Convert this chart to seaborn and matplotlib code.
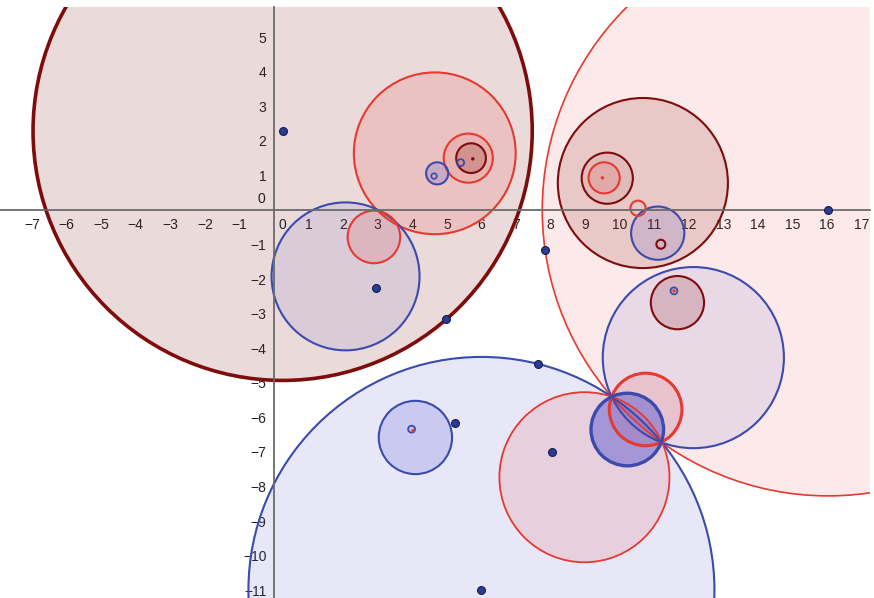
import seaborn as sns
import pandas as pd
import matplotlib.pyplot as plt
from matplotlib.patches import Circle

# circles (data units)
circle_x = [0.25, 16.03, 4.65, 2.07, 2.89, 10.67, 6.00, 12.13, 8.98, 4.09,
            5.62, 5.70, 4.72, 9.64, 9.55, 11.10, 11.67, 10.75, 10.22,
            10.53, 11.19, 5.40, 4.63, 3.98, 11.57]
circle_y = [2.29, 0.00, 1.64, -1.92, -0.78, 0.78, -10.99, -4.27, -7.73, -6.58,
            1.50, 1.50, 1.06, 0.92, 0.93, -0.67, -2.68, -5.77, -6.35,
            0.05, -0.99, 1.37, 0.98, -6.34, -2.34]
circle_r = [7.22, 8.27, 2.34, 2.14, 0.76, 2.46, 6.74, 2.62, 2.46, 1.06,
            0.71, 0.43, 0.32, 0.74, 0.45, 0.77, 0.77, 1.05, 1.05,
            0.22, 0.13, 0.10, 0.08, 0.10, 0.10]
circle_kind = ['maroon', 'red', 'red', 'blue', 'red', 'maroon', 'blue', 'blue', 'red', 'blue',
               'red', 'maroon', 'blue', 'maroon', 'red', 'blue', 'maroon', 'red', 'blue',
               'red', 'maroon', 'blue', 'blue', 'blue', 'blue']

# free points
dot_x = [0.25, 2.94, 4.97, 7.65, 5.23, 8.05, 6.00, 7.84, 16.03]
dot_y = [2.29, -2.27, -3.16, -4.46, -6.17, -7.01, -10.99, -1.16, 0.00]

# tiny centre marks
mark_x = [5.75, 9.50, 4.02, 11.57]
mark_y = [1.48, 0.93, -6.38, -2.34]
mark_kind = ['maroon', 'red', 'red', 'red']

x_ticks = list(range(-7, 18))
y_ticks = list(range(-11, 6))

colors = {'maroon': '#7e0c0c', 'red': '#e6392f', 'blue': '#3a4bad'}
fills = {'maroon': '#7e0c0c', 'red': '#e8302a', 'blue': '#4a4ad0'}
line_w = [2.6, 1.2, 1.5, 1.5, 1.5, 1.5, 1.5, 1.5, 1.3, 1.5,
          1.5, 1.5, 1.5, 1.5, 1.5, 1.5, 1.5, 2.2, 2.4,
          1.5, 1.5, 1.3, 1.2, 1.3, 1.3]
fill_a = [0.15, 0.10, 0.14, 0.10, 0.13, 0.15, 0.13, 0.10, 0.13, 0.18,
          0.10, 0.20, 0.20, 0.07, 0.12, 0.15, 0.17, 0.13, 0.42,
          0.0, 0.0, 0.0, 0.0, 0.0, 0.0]

circles = pd.DataFrame({'x': circle_x, 'y': circle_y, 'r': circle_r, 'kind': circle_kind})
dots = pd.DataFrame({'x': dot_x, 'y': dot_y})
marks = pd.DataFrame({'x': mark_x, 'y': mark_y, 'kind': mark_kind})

sns.set_theme(style="white")
plt.rcParams['font.family'] = ['Liberation Sans', 'DejaVu Sans']
fig = plt.figure(figsize=(8.74, 5.98), dpi=100)
ax = fig.add_axes([0, 0, 870 / 874, 591 / 598])

for i, row in circles.iterrows():
    k = row['kind']
    ax.add_patch(Circle((row['x'], row['y']), row['r'], facecolor=fills[k], alpha=fill_a[i],
                        edgecolor='none', zorder=1 + i * 0.01))
    ax.add_patch(Circle((row['x'], row['y']), row['r'], facecolor='none', edgecolor=colors[k],
                        lw=line_w[i], zorder=2 + i * 0.01))

sns.scatterplot(data=dots, x='x', y='y', ax=ax, s=32, color='#2a3c96',
                edgecolor='#141c4a', linewidth=0.8, zorder=5, legend=False)
sns.scatterplot(data=marks, x='x', y='y', hue='kind', palette=colors, ax=ax, s=6,
                linewidth=0, zorder=5, legend=False)

ax.set_xlim(-274 / 34.57, (870 - 274) / 34.57)
ax.set_ylim(-(598 - 210) / 34.57, (210 - 7) / 34.57)
ax.set_aspect('equal')
ax.set_xlabel('')
ax.set_ylabel('')

for side in ['top', 'right']:
    ax.spines[side].set_visible(False)
for side in ['left', 'bottom']:
    ax.spines[side].set_position('zero')
    ax.spines[side].set_color('#6b6b6b')
    ax.spines[side].set_linewidth(1.3)
    ax.spines[side].set_zorder(3)

ax.set_xticks([t for t in x_ticks if t != 0])
ax.set_yticks([t for t in y_ticks if t != 0])
ax.set_xticklabels([str(t).replace('-', '\u2212') for t in x_ticks if t != 0])
ax.set_yticklabels([str(t).replace('-', '\u2212') for t in y_ticks if t != 0])
ax.tick_params(axis='both', direction='out', length=2.5, width=1, color='#6b6b6b',
               labelsize=10, labelcolor='#222222', pad=3)
ax.text(0.12, -0.22, '0', ha='left', va='top', fontsize=10, color='#222222', zorder=6)
ax.text(-0.25, 0.12, '0', ha='right', va='bottom', fontsize=10, color='#222222', zorder=6)

fig.savefig('out.png', dpi=100)
